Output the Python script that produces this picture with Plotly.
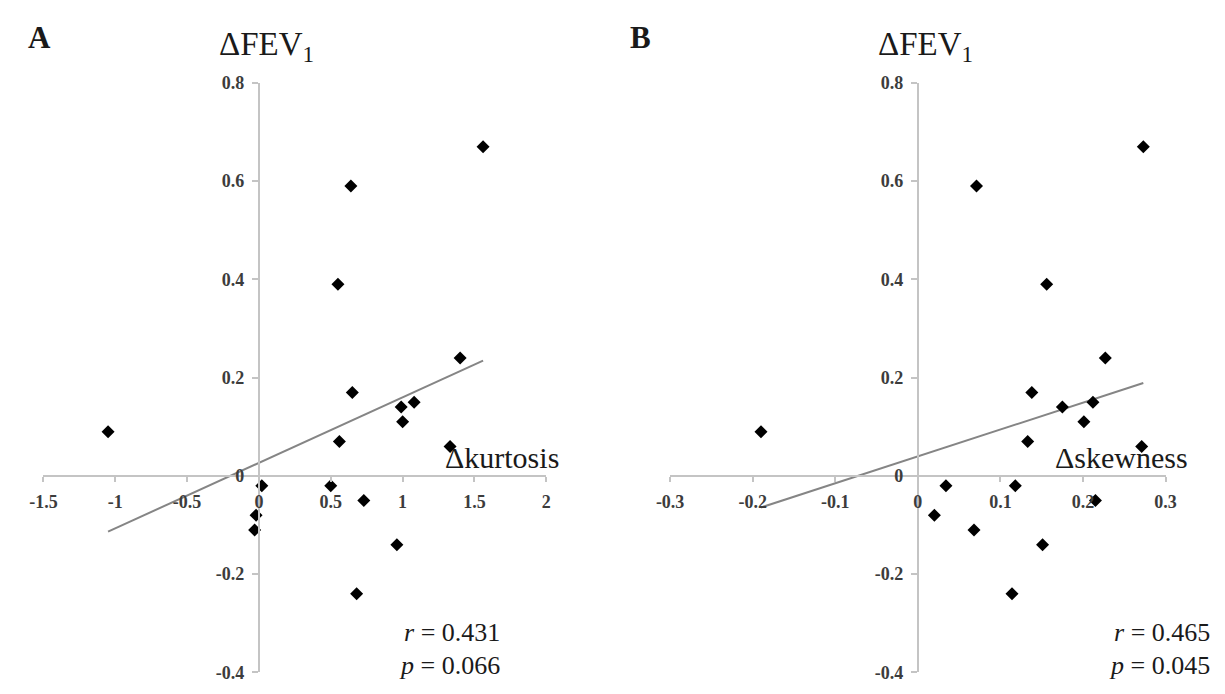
import numpy as np
import plotly.graph_objects as go

# ---------------- data ----------------
fev1_change = [0.09, 0.59, 0.67, 0.39, 0.17, 0.24, 0.07, 0.14, 0.15, 0.11,
               0.06, -0.02, -0.02, -0.05, -0.08, -0.11, -0.14, -0.24]
kurtosis_change = [-1.05, 0.64, 1.56, 0.55, 0.65, 1.40, 0.56, 0.99, 1.08, 1.00,
                   1.33, 0.02, 0.50, 0.73, -0.02, -0.03, 0.96, 0.68]
skewness_change = [-0.19, 0.071, 0.273, 0.156, 0.138, 0.227, 0.133, 0.175, 0.212, 0.201,
                   0.271, 0.034, 0.118, 0.215, 0.020, 0.068, 0.151, 0.114]

y_tick_vals = [-0.4, -0.2, 0, 0.2, 0.4, 0.6, 0.8]
y_tick_text = ["-0.4", "-0.2", "0", "0.2", "0.4", "0.6", "0.8"]
xa_tick_vals = [-1.5, -1, -0.5, 0, 0.5, 1, 1.5, 2]
xa_tick_text = ["-1.5", "-1", "-0.5", "0", "0.5", "1", "1.5", "2"]
xb_tick_vals = [-0.3, -0.2, -0.1, 0, 0.1, 0.2, 0.3]
xb_tick_text = ["-0.3", "-0.2", "-0.1", "0", "0.1", "0.2", "0.3"]

stats_a = ["<i>r</i> = 0.431", "<i>p</i> = 0.066"]
stats_b = ["<i>r</i> = 0.465", "<i>p</i> = 0.045"]

# ---------------- layout geometry ----------------
W, H = 1225, 694
y_range = [-0.4, 0.8]
xa_range = [-1.5, 2]
xb_range = [-0.3, 0.3]
y_dom = [(H - 682.0) / H, (H - 75.1) / H]
xa_dom = [30 / W, 543.4 / W]
xb_dom = [669.8 / W, 1175.6 / W]


def frac(v, rng, dom):
    return dom[0] + (v - rng[0]) / (rng[1] - rng[0]) * (dom[1] - dom[0])


SERIF = "Liberation Serif"
AXIS_COL = "#c4c4c4"
tickfont = dict(family=SERIF, size=18, color="#3c3c3c", weight="bold")

fig = go.Figure()


def add_panel(xs, xname, yname):
    xs = np.asarray(xs, dtype=float)
    ys = np.asarray(fev1_change, dtype=float)
    slope, intercept = np.polyfit(xs, ys, 1)
    lx = np.array([xs.min(), xs.max()])
    fig.add_trace(go.Scatter(x=lx, y=slope * lx + intercept, mode="lines",
                             line=dict(color="#858585", width=2),
                             xaxis=xname, yaxis=yname, hoverinfo="skip"))
    fig.add_trace(go.Scatter(x=xs, y=ys, mode="markers",
                             marker=dict(symbol="diamond", size=10, color="black"),
                             xaxis=xname, yaxis=yname))


add_panel(kurtosis_change, "x", "y")
add_panel(skewness_change, "x2", "y2")

common_x = dict(anchor="free", position=frac(0, y_range, y_dom), showline=True,
                linecolor=AXIS_COL, linewidth=2, ticks="outside", ticklen=5,
                tickcolor=AXIS_COL, tickwidth=1.5, showgrid=False, zeroline=False,
                tickfont=tickfont, ticklabelstandoff=5, fixedrange=True)
common_y = dict(range=y_range, domain=y_dom, anchor="free", showline=True,
                linecolor=AXIS_COL, linewidth=2, ticks="outside", ticklen=6,
                tickcolor=AXIS_COL, tickwidth=1.5, showgrid=False, zeroline=False,
                tickvals=y_tick_vals, ticktext=y_tick_text, tickfont=tickfont,
                ticklabelstandoff=4, fixedrange=True)

fig.update_layout(
    width=W, height=H,
    margin=dict(l=0, r=0, t=0, b=0),
    paper_bgcolor="white", plot_bgcolor="white",
    showlegend=False,
    xaxis=dict(domain=xa_dom, range=xa_range, tickvals=xa_tick_vals,
               ticktext=xa_tick_text, **common_x),
    xaxis2=dict(domain=xb_dom, range=xb_range, tickvals=xb_tick_vals,
                ticktext=xb_tick_text, **common_x),
    yaxis=dict(position=frac(0, xa_range, xa_dom), **common_y),
    yaxis2=dict(position=frac(0, xb_range, xb_dom), **common_y),
)

TXT = "#1a1a1a"
ann = []
# panel letters
ann.append(dict(text="<b>A</b>", x=12 / W, y=1 - 28 / H, xanchor="left", yanchor="middle",
                font=dict(family=SERIF, size=31, color=TXT)))
ann.append(dict(text="<b>B</b>", x=627 / W, y=1 - 28 / H, xanchor="left", yanchor="middle",
                font=dict(family=SERIF, size=31, color=TXT)))
# y titles
for cx in (frac(0, xa_range, xa_dom), frac(0, xb_range, xb_dom)):
    ann.append(dict(text="ΔFEV<sub>1</sub>", x=cx + 8 / W, y=1 - 38 / H,
                    xanchor="center", yanchor="middle",
                    font=dict(family=SERIF, size=33, color=TXT)))
# x titles
ann.append(dict(text="Δkurtosis", x=558 / W, xanchor="right", y=0, yref="y",
                yanchor="bottom", font=dict(family=SERIF, size=30, color=TXT)))
ann.append(dict(text="Δskewness", x=1200 / W, xanchor="right", y=0, yref="y2",
                yanchor="bottom", font=dict(family=SERIF, size=30, color=TXT)))
# statistics
for right, lines in ((498, stats_a), (1223, stats_b)):
    for i, t in enumerate(lines):
        ann.append(dict(text=t, x=right / W, xanchor="right", y=1 - (641 + 34 * i) / H,
                        yanchor="middle", font=dict(family=SERIF, size=26, color=TXT)))

for a in ann:
    a.setdefault("xref", "paper")
    a.setdefault("yref", "paper")
    a["showarrow"] = False
fig.update_layout(annotations=ann)

fig.write_html("out.html", config={"displayModeBar": False},
               post_script=("document.body.style.margin='0';"
                            "document.body.style.overflow='hidden';"
                            "document.documentElement.style.overflow='hidden';"))
